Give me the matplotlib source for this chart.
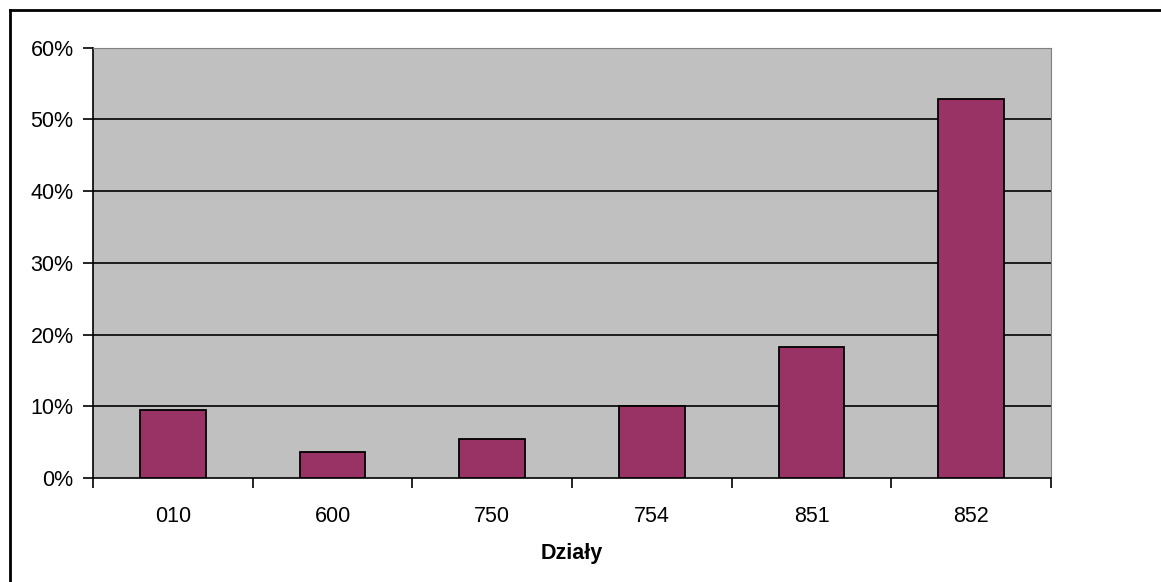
import matplotlib
matplotlib.use('Agg')
import matplotlib.pyplot as plt
import numpy as np
from matplotlib.lines import Line2D

categories = ['010', '600', '750', '754', '851', '852']
shares = [9.5, 3.6, 5.4, 10.0, 18.2, 52.8]
yticks = [0, 10, 20, 30, 40, 50, 60]

plt.rcParams['font.family'] = ['Liberation Sans', 'DejaVu Sans']

fig = plt.figure(figsize=(11.61, 5.82), dpi=100)
ax = fig.add_axes([93/1161, 1 - 478/582, (1051 - 93)/1161, (478 - 47.7)/582])
ax.set_facecolor('#c0c0c0')

x = np.arange(len(categories))
ax.bar(x, shares, width=0.41, color='#993366', edgecolor='black', linewidth=1.3, zorder=3)

ax.set_xlim(-0.5, len(categories) - 0.5)
ax.set_ylim(0, 60)
ax.set_yticks(yticks)
ax.set_yticklabels([f'{v}%' for v in yticks], fontsize=15.5)
for v in yticks[1:-1]:
    ax.axhline(v, color='black', linewidth=1.2, zorder=2)

ax.set_xticks(x)
ax.set_xticklabels(categories, fontsize=15.5)
ax.set_xticks(np.arange(len(categories) + 1) - 0.5, minor=True)
ax.tick_params(axis='x', which='major', length=0, pad=20)
ax.tick_params(axis='x', which='minor', length=7, width=1.2, direction='out')
ax.tick_params(axis='y', length=7, width=1.2, direction='out', pad=7)
ax.set_xlabel('Działy', fontsize=15.5, fontweight='bold', labelpad=12)

ax.spines['left'].set_color('black')
ax.spines['bottom'].set_color('black')
ax.spines['left'].set_linewidth(1.2)
ax.spines['bottom'].set_linewidth(1.2)
ax.spines['top'].set_color('#808080')
ax.spines['right'].set_color('#808080')

# chart border (only left and top visible in the crop)
fig.add_artist(Line2D([10/1161, 10/1161], [0, 1 - 10/582], color='black', linewidth=2, transform=fig.transFigure))
fig.add_artist(Line2D([10/1161, 1], [1 - 10/582, 1 - 10/582], color='black', linewidth=2, transform=fig.transFigure))

fig.savefig('out.png', dpi=100)
